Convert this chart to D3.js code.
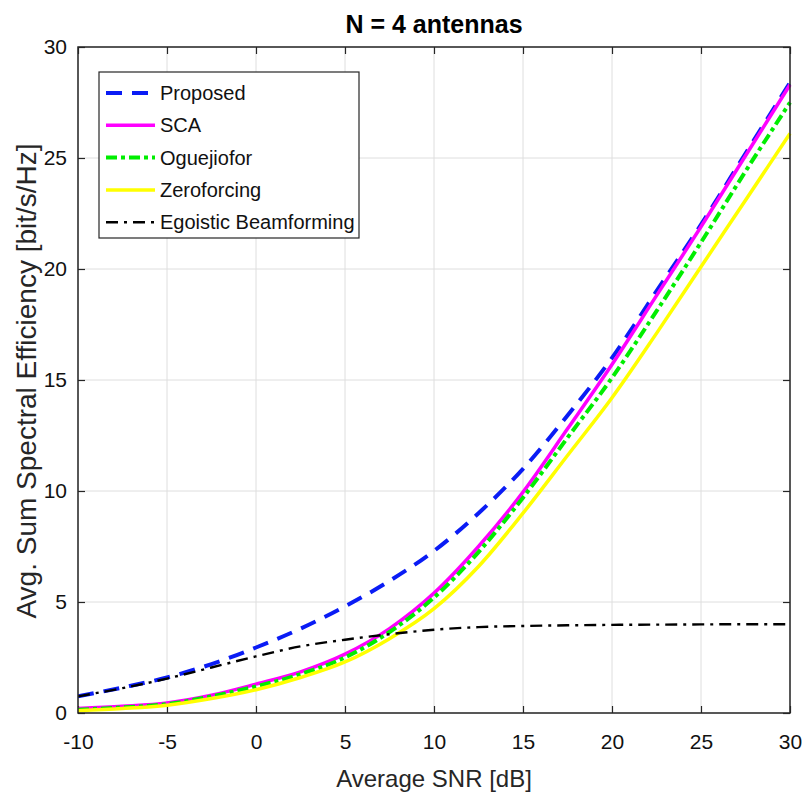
<!DOCTYPE html>
<html>
<head>
<meta charset="utf-8">
<script src="https://cdn.jsdelivr.net/npm/d3@7"></script>
<style>
  body { margin: 0; background: #fff; }
  svg text { font-family: "Liberation Sans", Arial, sans-serif; }
</style>
</head>
<body>
<svg id="chart" width="804" height="796"></svg>
<script>
(function() {
    "use strict";

    // SNR in dB
    var snr = [-10, -7.5, -5, -2.5, 0, 2.5, 5, 7.5, 10, 12.5, 15, 17.5, 20, 22.5, 25, 27.5, 30];

    var proposed   = [0.75, 1.15, 1.6, 2.2, 2.95, 3.8, 4.8, 5.95, 7.3, 9.0, 11.0, 13.4, 16.0, 19.0, 22.0, 25.2, 28.4];
    var sca        = [0.2, 0.3, 0.45, 0.8, 1.3, 1.85, 2.65, 3.8, 5.4, 7.5, 9.95, 12.8, 15.7, 18.8, 21.9, 25.1, 28.3];
    var oguejiofor = [0.15, 0.25, 0.4, 0.75, 1.2, 1.75, 2.5, 3.65, 5.2, 7.25, 9.7, 12.4, 15.1, 18.1, 21.2, 24.4, 27.5];
    var zeroforcing = [0.1, 0.2, 0.35, 0.65, 1.05, 1.6, 2.3, 3.35, 4.7, 6.6, 9.0, 11.6, 14.2, 17.1, 20.1, 23.1, 26.1];
    var egoistic   = [0.75, 1.12, 1.55, 2.05, 2.55, 3.0, 3.3, 3.55, 3.75, 3.87, 3.92, 3.95, 3.97, 3.98, 3.99, 4.0, 4.0];

    var xTicks = [-10, -5, 0, 5, 10, 15, 20, 25, 30];
    var yTicks = [0, 5, 10, 15, 20, 25, 30];

    var series = [
        {name: "Proposed", values: proposed, color: "#0a1cf5", width: 4, dash: "16,10"},
        {name: "SCA", values: sca, color: "#ff00ff", width: 3.5, dash: null},
        {name: "Oguejiofor", values: oguejiofor, color: "#00ee00", width: 4, dash: "11,4,4,4"},
        {name: "Zeroforcing", values: zeroforcing, color: "#ffff00", width: 3.5, dash: null},
        {name: "Egoistic Beamforming", values: egoistic, color: "#000000", width: 2.4, dash: "12,6,3,6"}
    ];

    var margin = {left: 78, top: 47, right: 14, bottom: 83};
    var width = 804, height = 796;
    var w = width - margin.left - margin.right;
    var h = height - margin.top - margin.bottom;

    var svg = d3.select("#chart");
    var g = svg.append("g").attr("transform", "translate(" + margin.left + "," + margin.top + ")");

    var x = d3.scaleLinear().domain([-10, 30]).range([0, w]);
    var y = d3.scaleLinear().domain([0, 30]).range([h, 0]);

    // grid
    g.append("g").selectAll("line.gx").data(xTicks).enter().append("line")
        .attr("x1", function(d) { return x(d); }).attr("x2", function(d) { return x(d); })
        .attr("y1", 0).attr("y2", h)
        .attr("stroke", "#dedede").attr("stroke-width", 1);
    g.append("g").selectAll("line.gy").data(yTicks).enter().append("line")
        .attr("y1", function(d) { return y(d); }).attr("y2", function(d) { return y(d); })
        .attr("x1", 0).attr("x2", w)
        .attr("stroke", "#dedede").attr("stroke-width", 1);

    // axes (ticks inward, box on all sides)
    var axisColor = "#262626";
    var plain = function(d) { return String(d); };   // hyphen minus like the original
    function styleAxis(sel) {
        sel.select(".domain").remove();
        sel.selectAll(".tick line").attr("stroke", axisColor).attr("stroke-width", 1.2);
        sel.selectAll(".tick text").attr("fill", "#111").style("font-size", "21px");
    }
    g.append("g").attr("transform", "translate(0," + h + ")")
        .call(d3.axisBottom(x).tickValues(xTicks).tickSizeInner(-7).tickSizeOuter(0).tickPadding(21).tickFormat(plain))
        .call(styleAxis);
    g.append("g")
        .call(d3.axisTop(x).tickValues(xTicks).tickSizeInner(-7).tickSizeOuter(0).tickFormat(""))
        .call(styleAxis);
    g.append("g")
        .call(d3.axisLeft(y).tickValues(yTicks).tickSizeInner(-7).tickSizeOuter(0).tickPadding(11).tickFormat(plain))
        .call(styleAxis);
    g.append("g").attr("transform", "translate(" + w + ",0)")
        .call(d3.axisRight(y).tickValues(yTicks).tickSizeInner(-7).tickSizeOuter(0).tickFormat(""))
        .call(styleAxis);

    // series lines
    var line = d3.line()
        .x(function(d, i) { return x(snr[i]); })
        .y(function(d) { return y(d); })
        .curve(d3.curveMonotoneX);

    g.append("clipPath").attr("id", "plotclip").append("rect")
        .attr("x", 0).attr("y", -2).attr("width", w + 2).attr("height", h + 2);

    var lines = g.append("g").attr("clip-path", "url(#plotclip)");
    series.forEach(function(s) {
        lines.append("path")
            .attr("d", line(s.values))
            .attr("fill", "none")
            .attr("stroke", s.color)
            .attr("stroke-width", s.width)
            .attr("stroke-dasharray", s.dash);
    });

    // box
    g.append("rect").attr("x", 0).attr("y", 0).attr("width", w).attr("height", h)
        .attr("fill", "none").attr("stroke", axisColor).attr("stroke-width", 1.5);

    // legend
    var lg = g.append("g").attr("transform", "translate(" + (99 - margin.left) + "," + (72 - margin.top) + ")");
    lg.append("rect").attr("width", 260).attr("height", 166)
        .attr("fill", "#fff").attr("stroke", axisColor).attr("stroke-width", 1.2);
    series.forEach(function(s, i) {
        var cy = 21 + i * 32.3;
        lg.append("line")
            .attr("x1", 7).attr("x2", 56).attr("y1", cy).attr("y2", cy)
            .attr("stroke", s.color).attr("stroke-width", s.width)
            .attr("stroke-dasharray", s.dash);
        lg.append("text")
            .attr("x", 61).attr("y", cy + 7)
            .attr("fill", "#111")
            .style("font-size", "20px")
            .text(s.name);
    });

    // title & labels
    svg.append("text")
        .attr("x", margin.left + w / 2).attr("y", 33)
        .attr("text-anchor", "middle")
        .style("font-size", "25px").style("font-weight", "bold")
        .attr("fill", "#000")
        .text("N = 4 antennas");

    svg.append("text")
        .attr("x", margin.left + w / 2).attr("y", 787)
        .attr("text-anchor", "middle")
        .style("font-size", "24px")
        .attr("fill", "#262626")
        .text("Average SNR [dB]");

    svg.append("text")
        .attr("transform", "translate(36,381) rotate(-90)")
        .attr("text-anchor", "middle")
        .style("font-size", "28px")
        .attr("fill", "#262626")
        .text("Avg. Sum Spectral Efficiency [bit/s/Hz]");
})();
</script>
</body>
</html>
